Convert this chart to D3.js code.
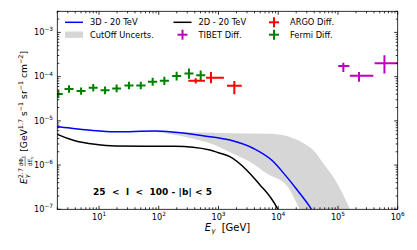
<!DOCTYPE html>
<html><head><meta charset="utf-8">
<script src="https://cdn.jsdelivr.net/npm/d3@7"></script>
<style>body{margin:0;background:#fff}svg{font-family:"DejaVu Sans",sans-serif}</style>
</head><body><svg id="c" width="417" height="250"></svg>
<script>
// ---------- data ----------
const xDomain = [2, 1e6];
const yDomain = [1e-7, 3e-3];
const xTickExps = [1, 2, 3, 4, 5, 6];
const yTickExps = [-3, -4, -5, -6, -7];

const fermiE    = [2.08, 3.14, 5.0, 8.0, 12.6, 19.7, 31.7, 50, 79, 124, 199, 320, 503];
const fermiELo  = [1.75, 2.64, 4.2, 6.7, 10.6, 16.6, 26.6, 42, 66, 104, 167, 269, 423];
const fermiEHi  = [2.47, 3.74, 5.95, 9.5, 15.0, 23.4, 37.7, 60, 94, 148, 237, 381, 599];
const fermiF    = [4.04e-5, 5.24e-5, 4.72e-5, 5.6e-5, 4.89e-5, 5.42e-5, 6.34e-5, 6.34e-5, 7.65e-5, 8.06e-5, 1.03e-4, 1.18e-4, 1.08e-4];
const fermiFLo  = [3.3e-5, 4.3e-5, 3.9e-5, 4.6e-5, 4.0e-5, 4.45e-5, 5.2e-5, 5.2e-5, 6.2e-5, 6.5e-5, 8.2e-5, 9.0e-5, 8.4e-5];
const fermiFHi  = [4.9e-5, 6.4e-5, 5.7e-5, 6.8e-5, 5.95e-5, 6.6e-5, 7.7e-5, 7.7e-5, 9.4e-5, 9.9e-5, 1.29e-4, 1.53e-4, 1.38e-4];

const argoE    = [415, 748, 1840];
const argoELo  = [312, 617, 1390];
const argoEHi  = [594, 1230, 2450];
const argoF    = [8.06e-5, 9.42e-5, 6.2e-5];
const argoFLo  = [7.0e-5, 7.1e-5, 3.98e-5];
const argoFHi  = [9.2e-5, 1.27e-4, 7.94e-5];

const tibetE    = [1.23e5, 2.25e5, 6.0e5];
const tibetELo  = [1.01e5, 1.58e5, 4.1e5];
const tibetEHi  = [1.55e5, 3.9e5, 1.0e6];
const tibetF    = [1.73e-4, 1.05e-4, 2.0e-4];
const tibetFLo  = [1.28e-4, 7.7e-5, 1.18e-4];
const tibetFHi  = [2.05e-4, 1.28e-4, 3.06e-4];

const model3dE = [1.9, 2.0, 6.6, 18.5, 86, 187, 550, 1550, 3800, 8000, 13000, 20800, 36000, 45000];
const model3dF = [7.4e-6, 7.36e-6, 6.19e-6, 5.67e-6, 5.89e-6, 5.5e-6, 4.6e-6, 3.68e-6, 2.4e-6, 1.25e-6, 6.0e-7, 2.73e-7, 1.0e-7, 6e-8];

const model2dE = [1.9, 2.0, 3.95, 8.55, 18.5, 187, 720, 1000, 1550, 2950, 4950, 7280, 9640, 11000];
const model2dF = [5.1e-6, 4.95e-6, 3.55e-6, 2.94e-6, 2.69e-6, 2.65e-6, 2.19e-6, 1.9e-6, 1.55e-6, 7.76e-7, 3.55e-7, 1.93e-7, 1.05e-7, 7e-8];

const bandUpE = [1.9, 6.6, 18.5, 71, 154, 1560, 7280, 15700, 26000, 41300, 56200, 96400, 159000, 200000];
const bandUpF = [7.6e-6, 6.35e-6, 5.8e-6, 6.0e-6, 5.73e-6, 5.25e-6, 5.1e-6, 4.3e-6, 3.15e-6, 1.97e-6, 1.11e-6, 3.93e-7, 1.0e-7, 5e-8];
const bandLoE = [1.9, 6.6, 18.5, 71, 154, 334, 720, 1000, 1550, 3340, 6400, 14400, 23000, 28600];
const bandLoF = [7.2e-6, 6.05e-6, 5.55e-6, 5.7e-6, 5.04e-6, 4.08e-6, 3.1e-6, 2.6e-6, 1.95e-6, 1.19e-6, 6.5e-7, 3.24e-7, 1.0e-7, 6e-8];

const legendLabels = ["3D - 20 TeV", "CutOff Uncerts.", "2D - 20 TeV", "TIBET Diff.", "ARGO Diff.", "Fermi Diff."];
const annotation = "25  <  l  <  100 - |b| < 5";

// ---------- layout ----------
const L = 57.3, R = 397.7, T = 11.3, B = 209.3;
const svg = d3.select("#c");
const x = d3.scaleLog().domain(xDomain).range([L, R]);
const y = d3.scaleLog().domain(yDomain).range([B, T]);

svg.append("defs").append("clipPath").attr("id", "clip")
  .append("rect").attr("x", L).attr("y", T).attr("width", R - L).attr("height", B - T);
const g = svg.append("g").attr("clip-path", "url(#clip)");

// band
const lineGen = d3.line().curve(d3.curveMonotoneX);
const up = bandUpE.map((e, i) => [x(e), y(bandUpF[i])]);
const lo = bandLoE.map((e, i) => [x(e), y(bandLoF[i])]);
const upPath = lineGen(up);
const loPath = lineGen(lo);
const sampled = [];
const loNode = document.createElementNS("http://www.w3.org/2000/svg", "path");
loNode.setAttribute("d", loPath);
svg.node().appendChild(loNode);
const Ltot = loNode.getTotalLength();
for (let s = Ltot; s >= 0; s -= 1) { const p = loNode.getPointAtLength(s); sampled.push([p.x, p.y]); }
loNode.remove();
g.append("path").attr("d", upPath + "L" + sampled.map(p => p[0] + "," + p[1]).join("L") + "Z")
  .attr("fill", "#d6d6d6").attr("stroke", "none");

const curve = (E, F) => lineGen(E.map((e, i) => [x(e), y(F[i])]));
g.append("path").attr("d", curve(model2dE, model2dF)).attr("fill", "none").attr("stroke", "#000").attr("stroke-width", 1.5);
g.append("path").attr("d", curve(model3dE, model3dF)).attr("fill", "none").attr("stroke", "#0000ff").attr("stroke-width", 1.5);

function errbars(E, ELo, EHi, F, FLo, FHi, color) {
  E.forEach((e, i) => {
    g.append("line").attr("x1", x(ELo[i])).attr("x2", x(EHi[i])).attr("y1", y(F[i])).attr("y2", y(F[i]))
      .attr("stroke", color).attr("stroke-width", 2);
    g.append("line").attr("x1", x(e)).attr("x2", x(e)).attr("y1", y(FLo[i])).attr("y2", y(FHi[i]))
      .attr("stroke", color).attr("stroke-width", 2);
  });
}
errbars(fermiE, fermiELo, fermiEHi, fermiF, fermiFLo, fermiFHi, "#008000");
errbars(argoE, argoELo, argoEHi, argoF, argoFLo, argoFHi, "#ff0000");
errbars(tibetE, tibetELo, tibetEHi, tibetF, tibetFLo, tibetFHi, "#bf00bf");

// frame
svg.append("rect").attr("x", L).attr("y", T).attr("width", R - L).attr("height", B - T)
  .attr("fill", "none").attr("stroke", "#000").attr("stroke-width", 0.8);

// ticks
function logTicks(dom) {
  const out = [];
  const a = Math.floor(Math.log10(dom[0])), b = Math.ceil(Math.log10(dom[1]));
  for (let k = a; k <= b; k++) for (let m = 1; m <= 9; m++) {
    const v = m * Math.pow(10, k);
    if (v >= dom[0] * 0.9999 && v <= dom[1] * 1.0001) out.push({ v, major: m === 1 });
  }
  return out;
}
const tk = svg.append("g").attr("stroke", "#000").attr("stroke-width", 0.8);
logTicks(xDomain).forEach(t => {
  const px = x(t.v), len = t.major ? 3.5 : 2;
  tk.append("line").attr("x1", px).attr("x2", px).attr("y1", B).attr("y2", B - len);
  tk.append("line").attr("x1", px).attr("x2", px).attr("y1", T).attr("y2", T + len);
});
logTicks(yDomain).forEach(t => {
  const py = y(t.v), len = t.major ? 3.5 : 2;
  tk.append("line").attr("y1", py).attr("y2", py).attr("x1", L).attr("x2", L + len);
  tk.append("line").attr("y1", py).attr("y2", py).attr("x1", R).attr("x2", R - len);
});

function powLabel(sel, exp) {
  sel.append("tspan").text("10");
  sel.append("tspan").attr("font-size", 5.8).attr("dy", -3.9).text(exp < 0 ? "\u2212" + (-exp) : String(exp));
}
xTickExps.forEach(k => {
  const t = svg.append("text").attr("x", x(Math.pow(10, k))).attr("y", 219.5)
    .attr("text-anchor", "middle").attr("font-size", 8.2).attr("fill", "#000");
  powLabel(t, k);
});
yTickExps.forEach(k => {
  const t = svg.append("text").attr("x", 53).attr("y", y(Math.pow(10, k)) + 2.8)
    .attr("text-anchor", "end").attr("font-size", 8.2).attr("fill", "#000");
  powLabel(t, k);
});

// x label
const xl = svg.append("text").attr("x", (L + R) / 2).attr("y", 231).attr("text-anchor", "middle")
  .attr("font-size", 10).attr("fill", "#000").style("white-space", "pre");
xl.append("tspan").attr("font-style", "italic").text("E");
xl.append("tspan").attr("font-size", 7).attr("dy", 2.2).attr("font-style", "italic").text("\u03b3");
xl.append("tspan").attr("dy", -2.2).text("  [GeV]");

// y label (rotated, built piecewise)
const yg = svg.append("g");
const fs = 9.2;
let cx = 0;
function piece(txt, opt = {}) {
  const t = yg.append("text").attr("x", cx).attr("y", opt.dy || 0).attr("font-size", opt.size || fs)
    .attr("fill", "#000").attr("font-style", opt.italic ? "italic" : "normal").style("white-space", "pre").text(txt);
  const w = t.node().getComputedTextLength();
  if (!opt.noAdvance) cx += w;
  return w;
}
piece("E", { italic: true });
const subStart = cx;
const wsub = piece("\u03b3", { italic: true, size: 6.4, dy: 2.3, noAdvance: true });
piece("2.7", { size: 6.4, dy: -4.3 });
cx = Math.max(cx, subStart + wsub) + 1.8;
const fx = cx;
const wNum = (function () { const s = cx; piece("d\u03a6", { size: 5.7, dy: -3.8 }); piece("\u03b3", { size: 4.1, dy: -2.9, italic: true }); const w = cx - s; cx = s; return w; })();
const wDen = (function () { const s = cx; piece("d", { size: 5.7, dy: 4.8 }); piece("E", { size: 5.7, dy: 4.8, italic: true }); piece("\u03b3", { size: 4.1, dy: 5.9, italic: true }); const w = cx - s; cx = s; return w; })();
const wF = Math.max(wNum, wDen);
yg.append("line").attr("x1", fx).attr("x2", fx + wF).attr("y1", -1.9).attr("y2", -1.9).attr("stroke", "#000").attr("stroke-width", 0.5);
cx = fx + wF + 1;
piece(" [GeV");
piece("1.7", { size: 6.4, dy: -4.3 });
piece(" s");
piece("\u22121", { size: 6.4, dy: -4.3 });
piece(" sr");
piece("\u22121", { size: 6.4, dy: -4.3 });
piece(" cm");
piece("\u22122", { size: 6.4, dy: -4.3 });
piece("]");
const total = cx;
yg.attr("transform", `translate(27,${117.5 + total / 2}) rotate(-90)`);

// annotation
svg.append("text").attr("x", 93).attr("y", 195).attr("font-size", 9).attr("font-weight", "bold")
  .attr("fill", "#000").style("white-space", "pre")
  .attr("textLength", 119).attr("lengthAdjust", "spacing").text(annotation);

// legend
const lg = svg.append("g").attr("font-size", 8.3).attr("fill", "#000");
const rows = [22.3, 34.7];
function legendText(tx, ty, s) { lg.append("text").attr("x", tx).attr("y", ty + 3).text(s); }
function legendPlus(cx0, cy0, color) {
  lg.append("line").attr("x1", cx0 - 5).attr("x2", cx0 + 5).attr("y1", cy0).attr("y2", cy0).attr("stroke", color).attr("stroke-width", 2);
  lg.append("line").attr("x1", cx0).attr("x2", cx0).attr("y1", cy0 - 5).attr("y2", cy0 + 5).attr("stroke", color).attr("stroke-width", 2);
}
lg.append("line").attr("x1", 65).attr("x2", 83).attr("y1", rows[0]).attr("y2", rows[0]).attr("stroke", "#0000ff").attr("stroke-width", 1.5);
legendText(90, rows[0], legendLabels[0]);
lg.append("rect").attr("x", 65).attr("y", rows[1] - 3.2).attr("width", 18).attr("height", 6.4).attr("fill", "#d6d6d6");
legendText(90, rows[1], legendLabels[1]);
lg.append("line").attr("x1", 173.5).attr("x2", 191.5).attr("y1", rows[0]).attr("y2", rows[0]).attr("stroke", "#000").attr("stroke-width", 1.5);
legendText(198.5, rows[0], legendLabels[2]);
legendPlus(182.5, rows[1], "#bf00bf");
legendText(198.5, rows[1], legendLabels[3]);
legendPlus(274, rows[0], "#ff0000");
legendText(290, rows[0], legendLabels[4]);
legendPlus(274, rows[1], "#008000");
legendText(290, rows[1], legendLabels[5]);
</script></body></html>
